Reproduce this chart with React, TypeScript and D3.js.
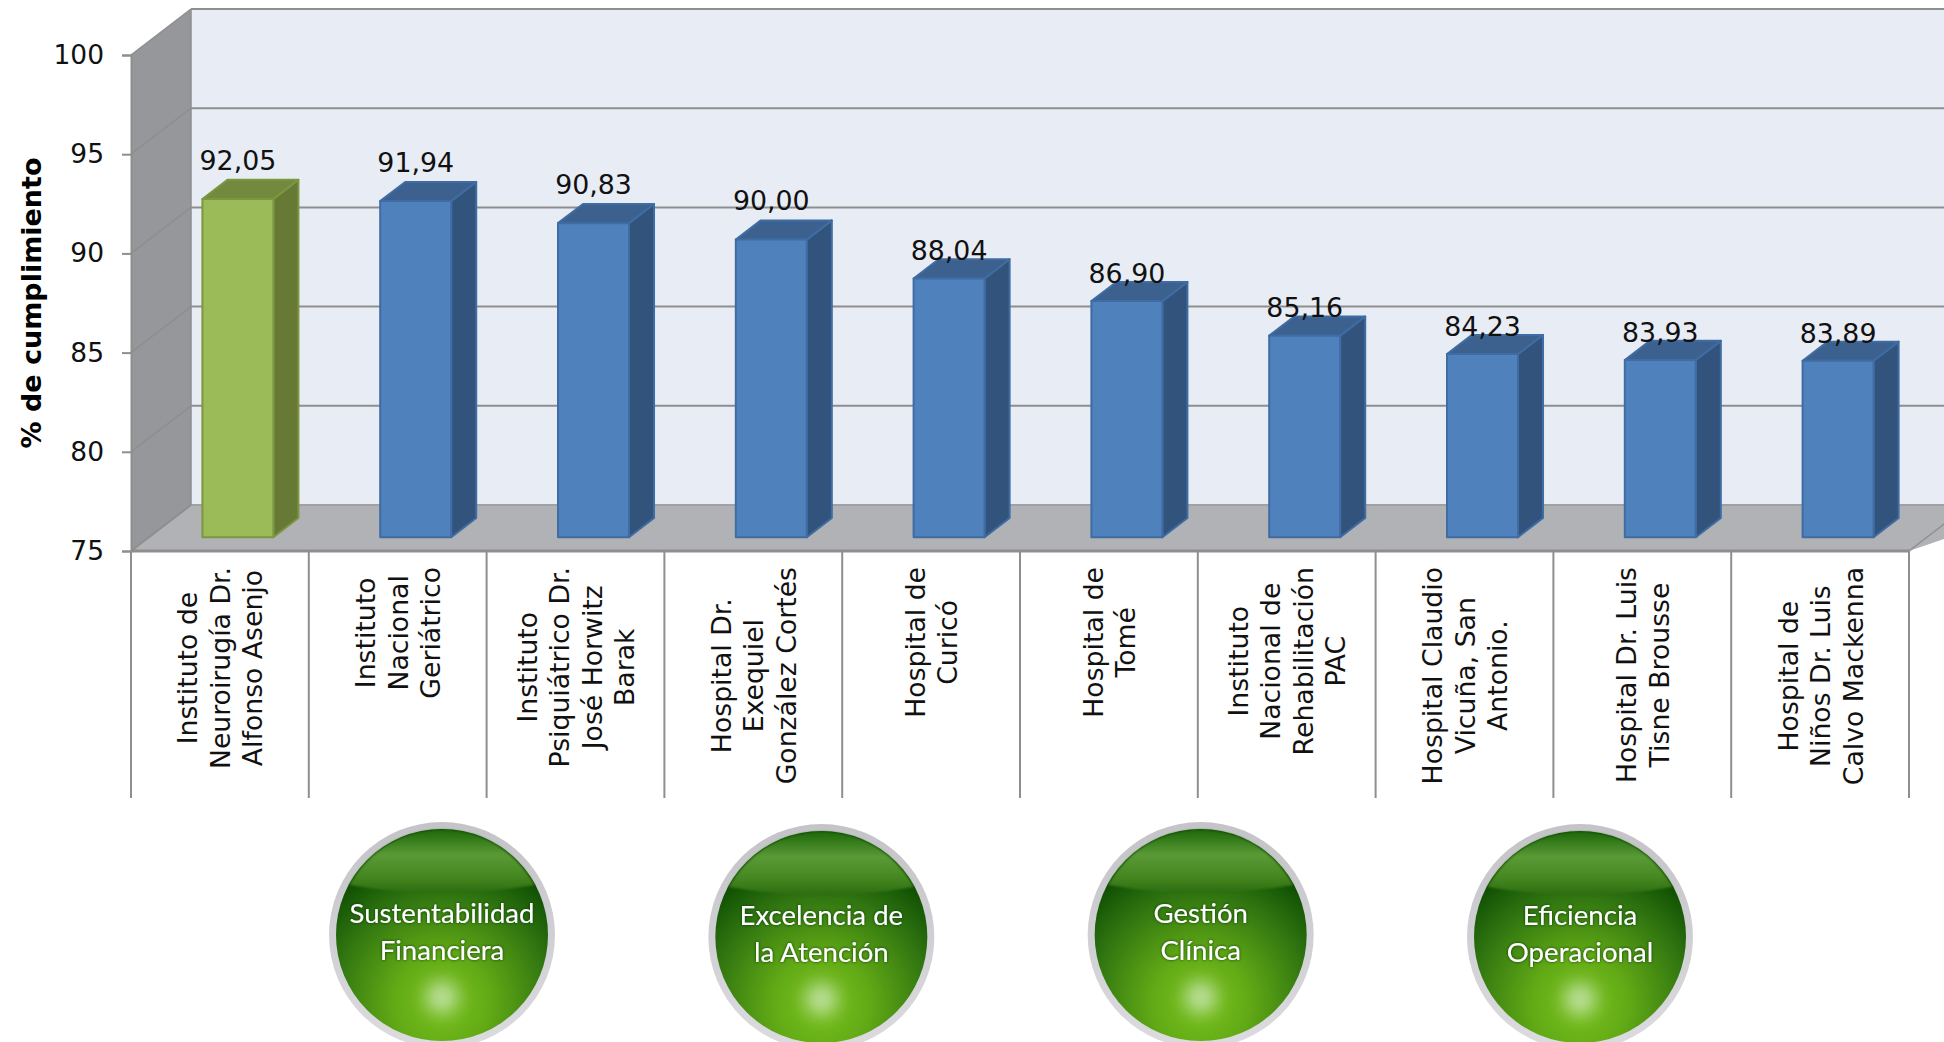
// @ts-nocheck
import { useRef, useEffect } from "react";
import * as d3 from "d3";

const categories = [
  "Instituto de|Neuroirugía Dr.|Alfonso Asenjo",
  "Instituto|Nacional|Geriátrico",
  "Instituto|Psiquiátrico Dr.|José Horwitz|Barak",
  "Hospital Dr.|Exequiel|González Cortés",
  "Hospital de|Curicó",
  "Hospital de|Tomé",
  "Instituto|Nacional de|Rehabilitación|PAC",
  "Hospital Claudio|Vicuña, San|Antonio.",
  "Hospital Dr. Luis|Tisne Brousse",
  "Hospital de|Niños Dr. Luis|Calvo Mackenna",
];
const values = [92.05, 91.94, 90.83, 90.0, 88.04, 86.9, 85.16, 84.23, 83.93, 83.89];
const yTicks = [75, 80, 85, 90, 95, 100];
const badgeLines = [
  ["Sustentabilidad", "Financiera"],
  ["Excelencia de", "la Atención"],
  ["Gestión", "Clínica"],
  ["Eficiencia", "Operacional"],
];

const WIDTH = 1944;
const HEIGHT = 1042;
const FONT = "'DejaVu Sans', sans-serif";

const App = () => {
  const svgRef = useRef();

  useEffect(() => {
    const svg = d3.select(svgRef.current);
    svg.selectAll("*").remove();

    const left = 131;
    const right = 1909;
    const bottom = 551;
    const top = 55;
    const depthX = 60;
    const depthY = 46;

    const x = d3.scaleBand().domain(categories).range([left, right]);
    const y = d3.scaleLinear().domain([75, 100]).range([bottom, top]);
    const pt = (px, py, d = 0) => [px + depthX * d, py - depthY * d];
    const line = d3.line();
    const poly = (pts) => line(pts) + "Z";

    const gridColor = "#8e8e8e";

    // paredes
    svg
      .append("path")
      .attr("d", poly([pt(left, top, 1), pt(WIDTH + 40, top, 1), pt(WIDTH + 40, bottom, 1), pt(left, bottom, 1)]))
      .attr("fill", "#e8ecf5");
    svg
      .append("path")
      .attr("d", poly([pt(left, top), pt(left, top, 1), pt(left, bottom, 1), pt(left, bottom)]))
      .attr("fill", "#96979b");
    svg
      .append("path")
      .attr("d", poly([pt(left, bottom), pt(left, bottom, 1), pt(right, bottom, 1), pt(right, bottom)]))
      .attr("fill", "#b0b2b6");
    svg
      .append("path")
      .attr("d", poly([pt(right, bottom), pt(right, bottom, 1), pt(WIDTH + 40, bottom, 1)]))
      .attr("fill", "#b0b2b6");

    // lineas de grilla
    yTicks.forEach((t) => {
      svg
        .append("path")
        .attr("d", line([pt(left, y(t)), pt(left, y(t), 1)]))
        .attr("stroke", gridColor)
        .attr("stroke-width", t === 75 ? 2 : 1.5)
        .attr("fill", "none");
      svg
        .append("path")
        .attr("d", line([pt(left, y(t), 1), pt(WIDTH + 40, y(t), 1)]))
        .attr("stroke", t === 75 ? "#a0a1a4" : gridColor)
        .attr("stroke-width", 2)
        .attr("fill", "none");
    });
    svg
      .append("path")
      .attr("d", line([pt(left, top, 1), pt(left, bottom, 1)]))
      .attr("stroke", gridColor)
      .attr("stroke-width", 1.5);
    svg
      .append("path")
      .attr("d", line([pt(right, bottom), pt(right, bottom, 1)]))
      .attr("stroke", gridColor)
      .attr("stroke-width", 1.5);

    // eje Y
    const yAxis = svg
      .append("g")
      .attr("transform", `translate(${left},0)`)
      .call(d3.axisLeft(y).tickValues(yTicks).tickSize(9).tickPadding(18));
    yAxis.selectAll("path").attr("stroke", gridColor).attr("stroke-width", 2);
    yAxis.selectAll("line").attr("stroke", gridColor).attr("stroke-width", 2);
    yAxis
      .selectAll("text")
      .attr("font-family", FONT)
      .attr("font-size", 26.5)
      .attr("fill", "#111");

    svg
      .append("text")
      .attr("transform", "translate(41,303) rotate(-90)")
      .attr("text-anchor", "middle")
      .attr("font-family", FONT)
      .attr("font-size", 27)
      .attr("font-weight", "bold")
      .attr("fill", "#000")
      .text("% de cumplimiento");

    // eje X
    svg
      .append("line")
      .attr("x1", left)
      .attr("x2", right)
      .attr("y1", bottom)
      .attr("y2", bottom)
      .attr("stroke", gridColor)
      .attr("stroke-width", 3);
    [...categories.map((c) => x(c)), right].forEach((px) => {
      svg
        .append("line")
        .attr("x1", px)
        .attr("x2", px)
        .attr("y1", bottom)
        .attr("y2", 798)
        .attr("stroke", gridColor)
        .attr("stroke-width", 2);
    });

    // barras
    const barW = 71;
    const frontD = 0.3;
    const backD = 0.717;
    categories.forEach((c, i) => {
      const v = values[i];
      const cx = x(c) + x.bandwidth() / 2;
      const x0 = cx - barW / 2;
      const x1 = cx + barW / 2;
      const colors =
        i === 0
          ? { front: "#9bbb59", top: "#738a3e", side: "#667a36", edge: "#7b973f" }
          : { front: "#4f81bd", top: "#3d618f", side: "#32547c", edge: "#3f6ca3" };
      const g = svg.append("g").attr("stroke", colors.edge).attr("stroke-width", 2).attr("stroke-linejoin", "round");
      g.append("path")
        .attr("d", poly([pt(x1, y(v), frontD), pt(x1, y(v), backD), pt(x1, y(75), backD), pt(x1, y(75), frontD)]))
        .attr("fill", colors.side);
      g.append("path")
        .attr("d", poly([pt(x0, y(v), frontD), pt(x0, y(v), backD), pt(x1, y(v), backD), pt(x1, y(v), frontD)]))
        .attr("fill", colors.top);
      g.append("path")
        .attr("d", poly([pt(x0, y(v), frontD), pt(x1, y(v), frontD), pt(x1, y(75), frontD), pt(x0, y(75), frontD)]))
        .attr("fill", colors.front);
    });

    // etiquetas de valor
    categories.forEach((c, i) => {
      const v = values[i];
      const [lx] = pt(x(c) + x.bandwidth() / 2, y(v), frontD);
      const backTop = pt(0, y(v), backD)[1];
      svg
        .append("text")
        .attr("x", lx)
        .attr("y", backTop + (v >= 90 ? -10 : 1))
        .attr("text-anchor", "middle")
        .attr("font-family", FONT)
        .attr("font-size", 26.8)
        .attr("fill", "#111")
        .text(v.toFixed(2).replace(".", ","));
    });

    // etiquetas de categoria
    const lineGap = 32.5;
    categories.forEach((c) => {
      const lines = c.split("|");
      const cx = x(c) + x.bandwidth() / 2;
      const g = svg.append("g");
      const texts = lines.map((l) =>
        g
          .append("text")
          .attr("text-anchor", "middle")
          .attr("font-family", FONT)
          .attr("font-size", 26.7)
          .attr("fill", "#111")
          .text(l)
      );
      const maxLen = d3.max(texts, (t) => t.node().getComputedTextLength());
      const cy = 567 + maxLen / 2;
      texts.forEach((t, i) => {
        const lx = cx + (i - (lines.length - 1) / 2) * lineGap + 10;
        t.attr("transform", `translate(${lx},${cy}) rotate(-90)`);
      });
    });

    // insignias
    const defs = svg.append("defs");
    const ball = defs
      .append("radialGradient")
      .attr("id", "ball")
      .attr("cx", "50%")
      .attr("cy", "82%")
      .attr("r", "72%");
    ball.append("stop").attr("offset", "0%").attr("stop-color", "#78c01c");
    ball.append("stop").attr("offset", "30%").attr("stop-color", "#64ac16");
    ball.append("stop").attr("offset", "72%").attr("stop-color", "#2f7410");
    ball.append("stop").attr("offset", "92%").attr("stop-color", "#175806");
    ball.append("stop").attr("offset", "100%").attr("stop-color", "#0e4a03");

    const gloss = defs
      .append("linearGradient")
      .attr("id", "gloss")
      .attr("x1", 0)
      .attr("x2", 0)
      .attr("y1", 0)
      .attr("y2", 1);
    gloss.append("stop").attr("offset", "0%").attr("stop-color", "#1f680a");
    gloss.append("stop").attr("offset", "40%").attr("stop-color", "#5a9a36");
    gloss.append("stop").attr("offset", "75%").attr("stop-color", "#44861f");
    gloss.append("stop").attr("offset", "100%").attr("stop-color", "#2c6c10");

    const ring = defs
      .append("linearGradient")
      .attr("id", "ring")
      .attr("x1", 0)
      .attr("x2", 0)
      .attr("y1", 0)
      .attr("y2", 1);
    ring.append("stop").attr("offset", "0%").attr("stop-color", "#c4c4c8");
    ring.append("stop").attr("offset", "100%").attr("stop-color", "#dcdce0");

    const soft = defs.append("filter").attr("id", "soft").attr("x", "-60%").attr("y", "-60%").attr("width", "220%").attr("height", "220%");
    soft.append("feGaussianBlur").attr("stdDeviation", 9);
    const soft2 = defs.append("filter").attr("id", "soft2").attr("x", "-5%").attr("y", "-5%").attr("width", "110%").attr("height", "110%");
    soft2.append("feGaussianBlur").attr("stdDeviation", 1);
    const shadow = defs.append("filter").attr("id", "txt").attr("x", "-20%").attr("y", "-40%").attr("width", "140%").attr("height", "180%");
    shadow.append("feDropShadow").attr("dx", 0).attr("dy", 0).attr("stdDeviation", 1.6).attr("flood-color", "#0c3a02").attr("flood-opacity", 1);

    const badgeX = d3.scalePoint().domain(badgeLines.map((b) => b[0])).range([442, 1580]);
    const r = 113;
    badgeLines.forEach((lines, i) => {
      const cx = badgeX(lines[0]);
      const cy = i % 2 === 0 ? 935 : 937;
      const inner = r - 7;
      const g = svg.append("g").attr("transform", `translate(${cx},${cy})`);
      g.append("circle").attr("r", r).attr("fill", "url(#ring)");
      g.append("circle").attr("r", inner).attr("fill", "url(#ball)");
      // brillo superior
      const gy = -50;
      const gx = Math.sqrt(inner * inner - gy * gy) - 1;
      g.append("path")
        .attr("d", `M${-gx},${gy} A${inner - 1},${inner - 1} 0 0 1 ${gx},${gy} Q0,${gy + 16} ${-gx},${gy}Z`)
        .attr("fill", "url(#gloss)")
        .attr("filter", "url(#soft2)");
      g.append("circle")
        .attr("cy", 62)
        .attr("r", 16)
        .attr("fill", "#d8ecd0")
        .attr("opacity", 0.75)
        .attr("filter", "url(#soft)");
      lines.forEach((l, j) => {
        g.append("text")
          .attr("y", j === 0 ? -12 : 25)
          .attr("text-anchor", "middle")
          .attr("font-family", "Lato, sans-serif")
          .attr("font-size", 27.6)
          .attr("fill", "#fff")
          .attr("filter", "url(#txt)")
          .text(l);
      });
    });
  }, []);

  return (
    <svg
      ref={svgRef}
      width={WIDTH}
      height={HEIGHT}
      style={{ position: "fixed", left: 0, top: 0, background: "#fff" }}
    ></svg>
  );
};

export default App;
